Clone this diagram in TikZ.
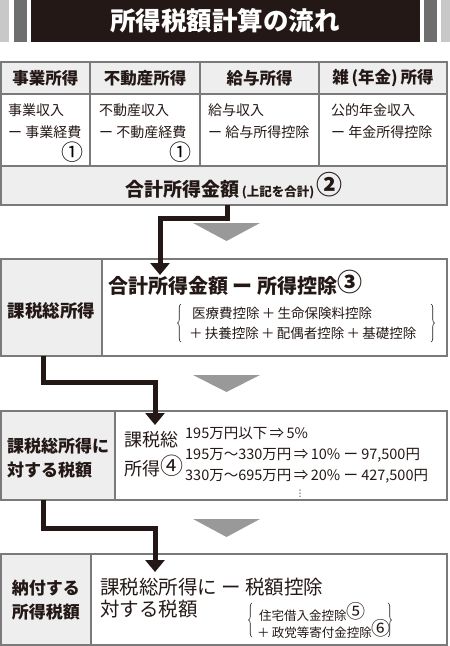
\documentclass[tikz,border=0pt]{standalone}
\usepackage{fontspec}
\setmainfont{Noto Sans CJK JP}
\newfontfamily\dvs{DejaVu Sans}
\usetikzlibrary{arrows.meta,calc,decorations.pathreplacing}
\definecolor{ink}{HTML}{231815}
\definecolor{hdr}{HTML}{EEEEEE}
\definecolor{bd}{HTML}{7A7A7A}
\definecolor{lgray}{HTML}{C8C8C8}
\definecolor{dgray}{HTML}{6E6E6E}
\definecolor{tri}{HTML}{999999}
\newcommand\fsz[1]{\fontsize{#1}{#1}\selectfont}
\newcommand\cnum[2]{{\fontsize{#1}{#1}\selectfont\raisebox{0.07em}{#2}}}
\newcommand\plusf{\,＋\,}
\begin{document}
\begin{tikzpicture}[x=1pt,y=-1pt,
  cell/.style={draw=bd,line width=1.2pt,anchor=north west,inner sep=0pt,outer sep=0pt},
  hcell/.style={cell,fill=hdr},
  txt/.style={inner sep=0pt,anchor=west,text=ink},
  ctxt/.style={inner sep=0pt,anchor=center,text=ink},
  flow/.style={draw=ink,line width=5pt,line join=miter,-{Triangle[width=19pt,length=12pt]}},
  tridown/.style={fill=tri,draw=none},
  brc/.style={draw=ink,line width=0.6pt,decorate,decoration={brace,amplitude=3.5pt}}
]
\useasboundingbox (0,0) rectangle (450,646);
% title bar
\fill[lgray] (0,0) rectangle (9,42);
\fill[dgray] (13.5,0) rectangle (26.5,42);
\fill[dgray] (424,0) rectangle (437,42);
\fill[lgray] (441,0) rectangle (450,42);
\node[fill=ink,minimum width=389pt,minimum height=42pt,anchor=north west,inner sep=0pt] (titlebar) at (31,0) {};
\node[inner sep=0pt,text=white,font=\fsz{25.5}\bfseries] (title) at (225,21) {所得税額計算の流れ};
% table header
\node[hcell,minimum width=89pt,minimum height=32pt] (h1) at (1,62) {};
\node[hcell,minimum width=110pt,minimum height=32pt] (h2) at (90,62) {};
\node[hcell,minimum width=119pt,minimum height=32pt] (h3) at (200,62) {};
\node[hcell,minimum width=128pt,minimum height=32pt] (h4) at (319,62) {};
\node[ctxt,font=\fsz{16.5}\bfseries] (h1t) at (h1.center) {事業所得};
\node[ctxt,font=\fsz{16.5}\bfseries] (h2t) at (h2.center) {不動産所得};
\node[ctxt,font=\fsz{16.5}\bfseries] (h3t) at (h3.center) {給与所得};
\node[ctxt,font=\fsz{16.5}\bfseries] (h4t) at (h4.center) {雑\,(年金)\,所得};
% table body
\node[cell,minimum width=89pt,minimum height=72pt] (b1) at (1,94) {};
\node[cell,minimum width=110pt,minimum height=72pt] (b2) at (90,94) {};
\node[cell,minimum width=119pt,minimum height=72pt] (b3) at (200,94) {};
\node[cell,minimum width=128pt,minimum height=72pt] (b4) at (319,94) {};
\node[txt,font=\fsz{14}] (b1a) at (8,110) {事業収入};
\node[txt,font=\fsz{14}] (b1b) at (8,132) {ー 事業経費};
\node[inner sep=0pt,anchor=east,font=\fsz{22}] (b1c) at (84,152) {①};
\node[txt,font=\fsz{14}] (b2a) at (99,110) {不動産収入};
\node[txt,font=\fsz{14}] (b2b) at (99,132) {ー 不動産経費};
\node[inner sep=0pt,anchor=east,font=\fsz{22}] (b2c) at (192,152) {①};
\node[txt,font=\fsz{14}] (b3a) at (208,110) {給与収入};
\node[txt,font=\fsz{14}] (b3b) at (208,132) {ー 給与所得控除};
\node[txt,font=\fsz{14}] (b4a) at (331,110) {公的年金収入};
\node[txt,font=\fsz{14}] (b4b) at (331,132) {ー 年金所得控除};
% sum row
\node[hcell,minimum width=446pt,minimum height=39pt] (sum) at (1,166) {};
\node[ctxt] (sumt) at (234,186) {\fsz{19}\bfseries 合計所得金額\fsz{12.5}\,(上記を合計)\,\cnum{26}{②}};
% gray triangles
\fill[tridown] (193,223) -- (260,223) -- (226.5,241) -- cycle;
\fill[tridown] (193,375) -- (260,375) -- (226.5,392) -- cycle;
\fill[tridown] (193,519) -- (260,519) -- (226.5,537) -- cycle;
% box 2
\node[cell,minimum width=446pt,minimum height=97pt] (box2) at (1,259) {};
\node[hcell,minimum width=101pt,minimum height=97pt] (lab2) at (1,259) {};
\node[ctxt,font=\fsz{17.5}\bfseries] (lab2t) at (51.5,311) {課税総所得};
\node[txt,font=\fsz{20}\bfseries] (main2) at (108,283) {合計所得金額 ー 所得控除\cnum{25}{③}};
\node[txt,font=\fsz{13.5}] (d2a) at (192,313) {医療費控除\plusf 生命保険料控除};
\node[txt,font=\fsz{13.5}] (d2b) at (189,333) {＋\,扶養控除\plusf 配偶者控除\plusf 基礎控除};
\draw[brc] (181,342) -- (181,304);
\draw[brc] (431,304) -- (431,342);
% box 3
\node[cell,minimum width=446pt,minimum height=89pt] (box3) at (1,411) {};
\node[hcell,minimum width=114pt,minimum height=89pt] (lab3) at (1,411) {};
\node[txt,font=\fsz{17}\bfseries] (lab3a) at (7,446) {課税総所得に};
\node[txt,font=\fsz{17}\bfseries] (lab3b) at (7,470) {対する税額};
\node[txt,font=\fsz{18}] (ti1) at (124,440) {課税総};
\node[txt,font=\fsz{18}] (ti2) at (124,466) {所得\cnum{23}{④}};
\node[txt,font=\fsz{14.5}] (r1) at (185,433) {195万円以下\,⇒\,5\%};
\node[txt,font=\fsz{14.5}] (r2) at (185,455) {195万〜330万円\,⇒\,10\% ー 97,500円};
\node[txt,font=\fsz{14.5}] (r3) at (185,476) {330万〜695万円\,⇒\,20\% ー 427,500円};
\node[ctxt,font=\dvs\fsz{9}] (r4) at (300,493.5) {⋮};
% box 4
\node[cell,minimum width=446pt,minimum height=91pt] (box4) at (1,554) {};
\node[hcell,minimum width=90pt,minimum height=91pt] (lab4) at (1,554) {};
\node[ctxt,font=\fsz{17}\bfseries] (lab4a) at (46,588) {納付する};
\node[ctxt,font=\fsz{17}\bfseries] (lab4b) at (46,612) {所得税額};
\node[txt,font=\fsz{19.5}] (m4a) at (100,587) {課税総所得に ー 税額控除};
\node[txt,font=\fsz{19.5}] (m4b) at (100,609) {対する税額};
\node[txt,font=\fsz{12.5}] (d4a) at (259,612) {住宅借入金控除\cnum{19}{⑤}};
\node[txt,font=\fsz{12.5}] (d4b) at (257,629) {＋\,政党等寄付金控除\cnum{19}{⑥}};
\draw[brc] (252,637) -- (252,603);
\draw[brc] (388,603) -- (388,637);
% connectors
\coordinate (k1a) at (227,218);
\coordinate (k1b) at (160,218);
\coordinate (t1) at (160,275);
\draw[flow] (sum.south -| k1a) -- (k1a) -- (k1b) -- (t1);
\coordinate (k2a) at (43,382);
\coordinate (k2b) at (155,382);
\coordinate (t2) at (155,425);
\draw[flow] (box2.south -| k2a) -- (k2a) -- (k2b) -- (t2);
\coordinate (k3a) at (43,528);
\coordinate (k3b) at (155,528);
\coordinate (t3) at (155,572);
\draw[flow] (box3.south -| k3a) -- (k3a) -- (k3b) -- (t3);
\end{tikzpicture}
\end{document}
